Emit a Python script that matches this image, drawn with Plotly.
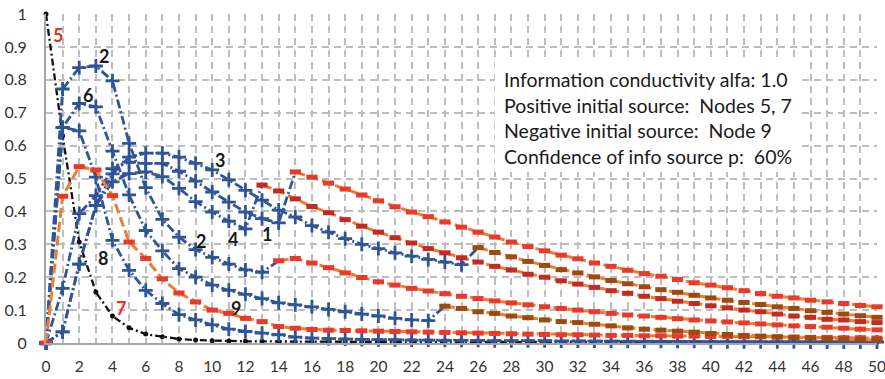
import plotly.graph_objects as go

t = list(range(51))

# node 5 (black, positive source)
node5 = [1, 0.63, 0.307, 0.155, 0.082, 0.046, 0.027, 0.019, 0.012, 0.009, 0.007,
         0.006, 0.005, 0.005, 0.004, 0.004, 0.004, 0.004, 0.003, 0.003, 0.003,
         0.003, 0.003, 0.003, 0.003, 0.003, 0.003, 0.003, 0.003, 0.003, 0.003,
         0.003, 0.003, 0.003, 0.003, 0.003, 0.003, 0.003, 0.003, 0.003, 0.003,
         0.003, 0.003, 0.003, 0.003, 0.003, 0.003, 0.003, 0.003, 0.003, 0.003]

# blue series that stays near zero (node 8)
node8 = [0, 0.655, 0.645, 0.504, 0.312, 0.221, 0.16, 0.12, 0.086, 0.07, 0.055,
         0.042, 0.035, 0.03, 0.025, 0.018, 0.015, 0.013, 0.012, 0.011, 0.010,
         0.010, 0.009, 0.009, 0.008, 0.008, 0.008, 0.007, 0.007, 0.007, 0.007,
         0.006, 0.006, 0.006, 0.006, 0.005, 0.005, 0.005, 0.005, 0.005, 0.004,
         0.004, 0.004, 0.004, 0.004, 0.004, 0.003, 0.003, 0.003, 0.003, 0.003]

# node 9 (orange line, red dash markers)
node9 = [0, 0.446, 0.536, 0.526, 0.448, 0.307, 0.257, 0.195, 0.152, 0.125, 0.10,
         0.09, 0.075, 0.065, 0.05, 0.045, 0.041, 0.039, 0.038, 0.037, 0.036,
         0.035, 0.034, 0.033, 0.032, 0.031, 0.030, 0.029, 0.028, 0.027, 0.026,
         0.025, 0.025, 0.024, 0.023, 0.023, 0.022, 0.022, 0.021, 0.021, 0.020,
         0.020, 0.019, 0.019, 0.018, 0.018, 0.017, 0.017, 0.016, 0.016, 0.015]

# blue part then red/brown part (switch index = first t of second style)
node2 = [0, 0.772, 0.837, 0.842, 0.797, 0.607, 0.472, 0.376, 0.322, 0.284, 0.26,
         0.24, 0.222, 0.215,
         0.25, 0.257, 0.243, 0.229, 0.213, 0.199, 0.186, 0.176, 0.166, 0.158,
         0.15, 0.142, 0.135, 0.128, 0.122, 0.116, 0.11, 0.105, 0.10, 0.095, 0.09,
         0.085, 0.082, 0.078, 0.074, 0.07, 0.067, 0.064, 0.061, 0.058, 0.055,
         0.052, 0.05, 0.048, 0.045, 0.042, 0.04]
switch2 = 14

node1 = [0, 0.166, 0.393, 0.448, 0.53, 0.55, 0.546, 0.546, 0.522, 0.492, 0.459,
         0.428, 0.398, 0.378, 0.365,
         0.52, 0.504, 0.486, 0.468, 0.45, 0.432, 0.414, 0.398, 0.384, 0.368,
         0.352, 0.337, 0.322, 0.307, 0.293, 0.28, 0.267, 0.256, 0.243, 0.233,
         0.221, 0.211, 0.203, 0.193, 0.183, 0.176, 0.168, 0.159, 0.15, 0.142,
         0.137, 0.13, 0.125, 0.12, 0.114, 0.11]
switch1 = 15

node4 = [0, 0.034, 0.24, 0.418, 0.49, 0.515, 0.52, 0.506, 0.47, 0.43, 0.398,
         0.37, 0.347,
         0.48, 0.462, 0.438, 0.415, 0.396, 0.375, 0.355, 0.337, 0.32, 0.304,
         0.287, 0.274, 0.259, 0.246, 0.233, 0.222, 0.209, 0.2, 0.189, 0.179,
         0.169, 0.159, 0.151, 0.142, 0.135, 0.127, 0.12, 0.113, 0.107, 0.10,
         0.095, 0.088, 0.082, 0.078, 0.072, 0.07, 0.065, 0.062]
switch4 = 13

node3 = [0, 0.034, 0.24, 0.418, 0.514, 0.565, 0.577, 0.577, 0.565, 0.546, 0.526,
         0.496, 0.464, 0.434, 0.404, 0.383, 0.357, 0.337, 0.317, 0.30, 0.287,
         0.274, 0.264, 0.254, 0.246, 0.238,
         0.29, 0.275, 0.262, 0.248, 0.236, 0.223, 0.213, 0.201, 0.19, 0.18,
         0.171, 0.162, 0.154, 0.145, 0.137, 0.13, 0.123, 0.117, 0.11, 0.105,
         0.098, 0.093, 0.088, 0.083, 0.078]
switch3 = 26

node6 = [0, 0.655, 0.728, 0.718, 0.583, 0.45, 0.342, 0.28, 0.226, 0.20, 0.176,
         0.16, 0.148, 0.135, 0.122, 0.116, 0.11, 0.102, 0.095, 0.088, 0.082,
         0.075, 0.07, 0.068,
         0.112, 0.105, 0.095, 0.09, 0.082, 0.077, 0.07, 0.065, 0.062, 0.057,
         0.052, 0.046, 0.042, 0.039, 0.036, 0.033, 0.029, 0.026, 0.023, 0.021,
         0.019, 0.017, 0.015, 0.013, 0.012, 0.011, 0.009]
switch6 = 24

# in-chart labels: (text, t, value, colour)
labels = [("5", 0.75, 0.935, "#D8352A"), ("2", 3.5, 0.873, "#1A1A1A"),
          ("6", 2.55, 0.755, "#1A1A1A"), ("3", 10.45, 0.557, "#1A1A1A"),
          ("2", 9.35, 0.31, "#1A1A1A"), ("4", 11.25, 0.316, "#1A1A1A"),
          ("1", 13.3, 0.332, "#1A1A1A"), ("8", 3.45, 0.257, "#1A1A1A"),
          ("7", 4.5, 0.107, "#D8352A"), ("9", 11.42, 0.105, "#1A1A1A")]

info_lines = ["Information conductivity alfa: 1.0",
              "Positive initial source:  Nodes 5, 7",
              "Negative initial source:  Node 9",
              "Confidence of info source p:  60%"]

BLUE = "#2F5597"
ORANGE = "#ED7D31"
RED = "#E8392B"
DARKRED = "#C22A22"
BROWN = "#9C4A10"
BLUE_DASH = "9px,3px,2px,3px"

fig = go.Figure()


def add_blue(vals, end=None):
    if end is None:
        x, y = t, vals
        op = [1] * len(vals)
    else:
        x, y = t[:end + 1], vals[:end + 1]
        op = [1] * end + [0]
    fig.add_trace(go.Scatter(
        x=x, y=y, mode="lines+markers", cliponaxis=False,
        line=dict(color=BLUE, width=2.8, dash=BLUE_DASH),
        marker=dict(symbol="cross-thin", size=10, opacity=op, color=BLUE,
                    line=dict(color=BLUE, width=2.8))))


def add_red(vals, start, mcolor):
    fig.add_trace(go.Scatter(
        x=t[start:], y=vals[start:], mode="lines+markers", cliponaxis=False,
        line=dict(color=ORANGE, width=3, dash="10px,4px"),
        marker=dict(symbol="line-ew", size=8, color=mcolor,
                    line=dict(color=mcolor, width=5))))


# black source line
fig.add_trace(go.Scatter(
    x=t, y=node5, mode="lines+markers", cliponaxis=False,
    line=dict(color="#111111", width=2.3, dash="7px,3px,2px,3px"),
    marker=dict(symbol="circle", size=5, color="#111111")))

add_blue(node8)
add_blue(node6, switch6)
add_blue(node2, switch2)
add_blue(node3, switch3)
add_blue(node1, switch1)
add_blue(node4, switch4)

add_red(node9, 0, RED)
add_red(node6, switch6, BROWN)
add_red(node2, switch2, RED)
add_red(node3, switch3, BROWN)
add_red(node4, switch4, DARKRED)
add_red(node1, switch1, RED)

for txt, x, y, c in labels:
    fig.add_annotation(x=x, y=y, text=txt, showarrow=False,
                       font=dict(family="Lato", size=18, color=c, weight="bold"))

# white background box behind the info text
fig.add_shape(type="rect", xref="x", yref="y", x0=27.0, x1=45.3, y0=0.52, y1=0.868,
              fillcolor="white", line=dict(width=0), layer="between")
for i, line in enumerate(info_lines):
    fig.add_annotation(x=27.45, y=0.800 - i * 0.0775, text=line, showarrow=False,
                       xanchor="left", yanchor="middle",
                       font=dict(family="Lato", size=19.5, color="#1A1A1A"))

grid = dict(showgrid=True, gridcolor="#BDBDBD", gridwidth=1.5, griddash="7px,5px")
fig.update_xaxes(range=[0, 50], tickmode="linear", tick0=0, dtick=2,
                 showline=True, linecolor="#A6A6A6", linewidth=2, zeroline=False,
                 ticks="", ticklabelstandoff=8, automargin=False,
                 ticklabeloverflow="allow",
                 minor=dict(dtick=1, showgrid=True, gridcolor="#BDBDBD",
                            gridwidth=1.5, griddash="7px,5px"),
                 tickfont=dict(family="Lato", size=15.5, color="#333333"), **grid)
fig.update_yaxes(range=[0, 1], tickmode="linear", tick0=0, dtick=0.1,
                 showline=True, linecolor="#A6A6A6", linewidth=2, zeroline=False,
                 ticks="", ticklabelstandoff=14, automargin=False,
                 tickfont=dict(family="Lato", size=16, color="#333333"), **grid)

fig.update_layout(width=885, height=379, showlegend=False,
                  margin=dict(l=46, r=8, t=14, b=36),
                  plot_bgcolor="white", paper_bgcolor="white")

fig.write_html("out.html", config={"displayModeBar": False},
               post_script="document.body.style.margin='0';"
                           "document.body.style.overflow='hidden';")
